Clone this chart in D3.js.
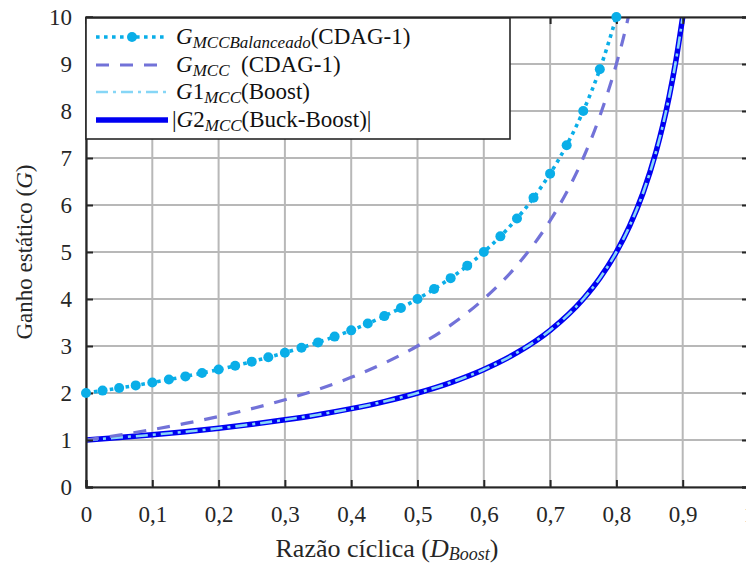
<!DOCTYPE html>
<html>
<head>
<meta charset="utf-8">
<script src="https://cdn.jsdelivr.net/npm/d3@7"></script>
<style>
  body { margin: 0; background: #fff; }
  svg, svg text { font-family: "Liberation Serif", "Times New Roman", "DejaVu Serif", serif !important; }
</style>
</head>
<body>
<svg id="chart" width="746" height="564"></svg>
<script>
// ---- data ----
const xTicks = [0, 0.1, 0.2, 0.3, 0.4, 0.5, 0.6, 0.7, 0.8, 0.9, 1];
const xTickLabels = ["0", "0,1", "0,2", "0,3", "0,4", "0,5", "0,6", "0,7", "0,8", "0,9", "1"];
const yTicks = [0, 1, 2, 3, 4, 5, 6, 7, 8, 9, 10];
const yTickLabels = ["0", "1", "2", "3", "4", "5", "6", "7", "8", "9", "10"];

const dBal = [0, 0.025, 0.05, 0.075, 0.1, 0.125, 0.15, 0.175, 0.2, 0.225, 0.25, 0.275, 0.3, 0.325, 0.35, 0.375, 0.4, 0.425, 0.45, 0.475, 0.5, 0.525, 0.55, 0.575, 0.6, 0.625, 0.65, 0.675, 0.7, 0.725, 0.75, 0.775, 0.8];
const gBal = [2, 2.051, 2.105, 2.162, 2.222, 2.286, 2.353, 2.424, 2.5, 2.581, 2.667, 2.759, 2.857, 2.963, 3.077, 3.2, 3.333, 3.478, 3.636, 3.81, 4, 4.211, 4.444, 4.706, 5, 5.333, 5.714, 6.154, 6.667, 7.273, 8, 8.889, 10];

const dMcc = [0, 0.05, 0.1, 0.15, 0.2, 0.25, 0.3, 0.35, 0.4, 0.45, 0.5, 0.55, 0.6, 0.65, 0.7, 0.725, 0.75, 0.775, 0.8, 0.81, 0.818];
const gMcc = [1, 1.105, 1.222, 1.353, 1.5, 1.667, 1.857, 2.077, 2.333, 2.636, 3, 3.444, 4, 4.714, 5.667, 6.273, 7, 7.889, 9, 9.526, 10];

const dBoost = [0, 0.05, 0.1, 0.15, 0.2, 0.25, 0.3, 0.35, 0.4, 0.45, 0.5, 0.55, 0.6, 0.65, 0.7, 0.75, 0.775, 0.8, 0.82, 0.84, 0.86, 0.87, 0.88, 0.89, 0.9];
const gBoost = [1, 1.053, 1.111, 1.176, 1.25, 1.333, 1.429, 1.538, 1.667, 1.818, 2, 2.222, 2.5, 2.857, 3.333, 4, 4.444, 5, 5.556, 6.25, 7.143, 7.692, 8.333, 9.091, 10];

const dBuck = [0, 0.05, 0.1, 0.15, 0.2, 0.25, 0.3, 0.35, 0.4, 0.45, 0.5, 0.55, 0.6, 0.65, 0.7, 0.75, 0.775, 0.8, 0.82, 0.84, 0.86, 0.87, 0.88, 0.89, 0.9];
const gBuck = [1, 1.053, 1.111, 1.176, 1.25, 1.333, 1.429, 1.538, 1.667, 1.818, 2, 2.222, 2.5, 2.857, 3.333, 4, 4.444, 5, 5.556, 6.25, 7.143, 7.692, 8.333, 9.091, 10];

// ---- layout ----
const FONT = '"Liberation Serif", "Times New Roman", "DejaVu Serif", serif';
const svg = d3.select("#chart");
const L = 86, R = 749, T = 17, B = 487;
const x = d3.scaleLinear().domain([0, 1]).range([L, R]);
const y = d3.scaleLinear().domain([0, 10]).range([B, T]);

const axisColor = "#262626";
const gridColor = "#b8b8b8";

svg.append("defs").append("clipPath").attr("id", "clip")
  .append("rect").attr("x", L).attr("y", T).attr("width", R - L).attr("height", B - T);

// grid
const grid = svg.append("g");
grid.selectAll("line.gx").data(xTicks).enter().append("line")
  .attr("x1", d => x(d)).attr("x2", d => x(d)).attr("y1", T).attr("y2", B)
  .attr("stroke", gridColor).attr("stroke-width", 2);
grid.selectAll("line.gy").data(yTicks).enter().append("line")
  .attr("y1", d => y(d)).attr("y2", d => y(d)).attr("x1", L).attr("x2", R)
  .attr("stroke", gridColor).attr("stroke-width", 2);

// axes via d3
const tl = 7;
const xAxisB = d3.axisBottom(x).tickValues(xTicks).tickFormat((d, i) => xTickLabels[i]).tickSize(-tl).tickPadding(19);
const xAxisT = d3.axisTop(x).tickValues(xTicks).tickFormat("").tickSize(-tl);
const yAxisL = d3.axisLeft(y).tickValues(yTicks).tickFormat((d, i) => yTickLabels[i]).tickSize(-tl).tickPadding(14);
const yAxisR = d3.axisRight(y).tickValues(yTicks).tickFormat("").tickSize(-tl);

function styleAxis(g) {
  g.attr("font-family", FONT);
  g.select(".domain").attr("stroke", axisColor).attr("stroke-width", 2.2);
  g.selectAll(".tick line").attr("stroke", axisColor).attr("stroke-width", 2);
  g.selectAll(".tick text").attr("fill", "#262626").attr("font-size", 23)
    .style("font-family", FONT);
}

// lines
const plot = svg.append("g").attr("clip-path", "url(#clip)");
const line = d3.line().x(d => x(d[0])).y(d => y(d[1])).curve(d3.curveMonotoneX);
const zip = (a, b) => a.map((v, i) => [v, b[i]]);

const cBal = "#0aaee8", cMcc = "#7272d8", cBoost = "#86d6f6", cBuck = "#0000f2";

plot.append("path").datum(zip(dBuck, gBuck)).attr("d", line)
  .attr("fill", "none").attr("stroke", cBuck).attr("stroke-width", 5.5);
plot.append("path").datum(zip(dBoost, gBoost)).attr("d", line)
  .attr("fill", "none").attr("stroke", cBoost).attr("stroke-width", 2.6)
  .attr("stroke-dasharray", "12,5,3,5");
plot.append("path").datum(zip(dMcc, gMcc)).attr("d", line)
  .attr("fill", "none").attr("stroke", cMcc).attr("stroke-width", 3.2)
  .attr("stroke-dasharray", "13,11");
plot.append("path").datum(zip(dBal, gBal)).attr("d", line)
  .attr("fill", "none").attr("stroke", cBal).attr("stroke-width", 3.6)
  .attr("stroke-dasharray", "3.6,4.4");

// axes on top of lines
svg.append("g").attr("transform", `translate(0,${B})`).call(xAxisB).call(styleAxis);
svg.append("g").attr("transform", `translate(0,${T})`).call(xAxisT).call(styleAxis);
svg.append("g").attr("transform", `translate(${L},0)`).call(yAxisL).call(styleAxis);
svg.append("g").attr("transform", `translate(${R},0)`).call(yAxisR).call(styleAxis);

// markers (not clipped)
svg.append("g").selectAll("circle").data(zip(dBal, gBal)).enter().append("circle")
  .attr("cx", d => x(d[0])).attr("cy", d => y(d[1])).attr("r", 5)
  .attr("fill", cBal);

// legend
const lg = svg.append("g");
lg.append("rect").attr("x", 86).attr("y", 18).attr("width", 424).attr("height", 121)
  .attr("fill", "#fff").attr("stroke", axisColor).attr("stroke-width", 1.6);

const rows = [
  { y: 37, color: cBal, width: 3.6, dash: "3.6,4.4", marker: true, main: "G", sub: "MCCBalanceado", tail: "(CDAG-1)", pre: "" },
  { y: 65, color: cMcc, width: 3.2, dash: "13,11", marker: false, main: "G", sub: "MCC", tail: "\u00a0 (CDAG-1)", pre: "" },
  { y: 92, color: cBoost, width: 2.6, dash: "12,5,3,5", marker: false, main: "G1", sub: "MCC", tail: "(Boost)", pre: "" },
  { y: 120, color: cBuck, width: 5.5, dash: null, marker: false, main: "G2", sub: "MCC", tail: "(Buck-Boost)|", pre: "|" }
];
rows.forEach(r => {
  const p = lg.append("line").attr("x1", 96).attr("x2", 168).attr("y1", r.y).attr("y2", r.y)
    .attr("stroke", r.color).attr("stroke-width", r.width);
  if (r.dash) p.attr("stroke-dasharray", r.dash);
  if (r.marker) lg.append("circle").attr("cx", 132).attr("cy", r.y).attr("r", 5).attr("fill", r.color);
  const t = lg.append("text").attr("x", r.pre ? 172 : 176).attr("y", r.y + 7).attr("font-size", 23)
    .attr("fill", "#111").style("font-family", FONT);
  if (r.pre) t.append("tspan").text(r.pre);
  t.append("tspan").attr("font-style", "italic").text("G");
  if (r.main.length > 1) t.append("tspan").text(r.main.slice(1));
  t.append("tspan").attr("font-style", "italic").attr("font-size", 17).attr("dy", 4).text(r.sub);
  t.append("tspan").attr("dy", -4).text(r.tail);
});

// axis titles
const xt = svg.append("text").attr("x", 387).attr("y", 557).attr("text-anchor", "middle")
  .attr("font-size", 26).attr("fill", "#262626").style("font-family", FONT);
xt.append("tspan").text("Razão cíclica (");
xt.append("tspan").attr("font-style", "italic").text("D");
xt.append("tspan").attr("font-style", "italic").attr("font-size", 18).attr("dy", 3).text("Boost");
xt.append("tspan").attr("dy", -3).text(")");

const yt = svg.append("text").attr("transform", "translate(32,252) rotate(-90)").attr("text-anchor", "middle")
  .attr("font-size", 23).attr("fill", "#262626").style("font-family", FONT);
yt.append("tspan").text("Ganho estático (");
yt.append("tspan").attr("font-style", "italic").text("G");
yt.append("tspan").text(")");
</script>
</body>
</html>
